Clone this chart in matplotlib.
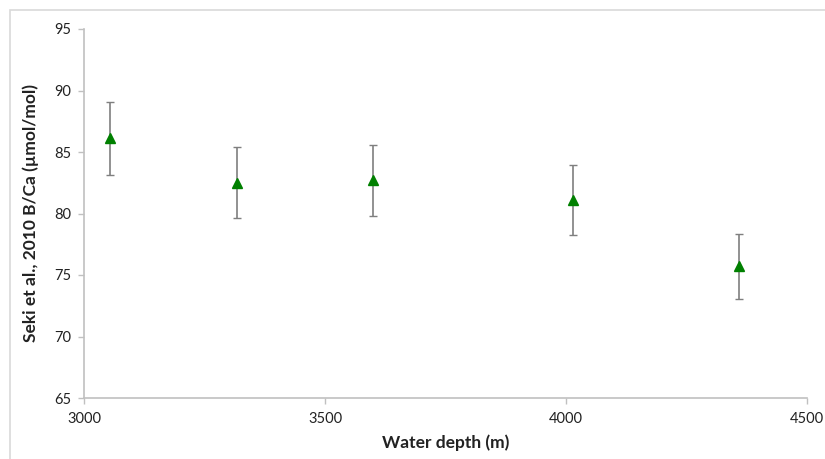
import matplotlib.pyplot as plt
from matplotlib.patches import Rectangle

# data
depth = [3054, 3317, 3600, 4015, 4359]
b_ca = [86.1, 82.5, 82.7, 81.1, 75.7]
b_ca_err = [3.0, 2.9, 2.9, 2.85, 2.65]

x_ticks = [3000, 3500, 4000, 4500]
y_ticks = [65, 70, 75, 80, 85, 90, 95]

plt.rcParams["font.family"] = ["Lato", "DejaVu Sans"]

fig = plt.figure(figsize=(8.25, 4.59), dpi=100)
ax = fig.add_axes([84 / 825, 61 / 459, 723 / 825, 369 / 459])

# outer chart frame (Excel style)
fig.patches.append(
    Rectangle((10 / 825, -0.05), 820 / 825, 1.05 - 10 / 459,
              transform=fig.transFigure, fill=False,
              edgecolor="#d9d9d9", linewidth=1.2)
)

ax.errorbar(depth, b_ca, yerr=b_ca_err, fmt="^", color="#008000",
            markersize=7.5, ecolor="#7f7f7f", elinewidth=1.2,
            capsize=3, capthick=1.0, zorder=3)

ax.set_xlim(3000, 4500)
ax.set_ylim(65, 95)
ax.set_xticks(x_ticks)
ax.set_yticks(y_ticks)

for side in ["top", "right"]:
    ax.spines[side].set_visible(False)
for side in ["left", "bottom"]:
    ax.spines[side].set_color("#c0c0c0")
    ax.spines[side].set_linewidth(1.2)

ax.tick_params(axis="both", colors="#c0c0c0", labelcolor="#222222",
               labelsize=10.5, length=4, width=1)
ax.tick_params(axis="x", pad=6)
ax.tick_params(axis="y", pad=5)

ax.set_xlabel("Water depth (m)", fontsize=12.5, fontweight="bold",
              color="#222222", labelpad=6)
ax.set_ylabel("Seki et al., 2010 B/Ca (\u00b5mol/mol)", fontsize=12.5,
              fontweight="bold", color="#222222", labelpad=11)

fig.savefig("out.png", dpi=100)
